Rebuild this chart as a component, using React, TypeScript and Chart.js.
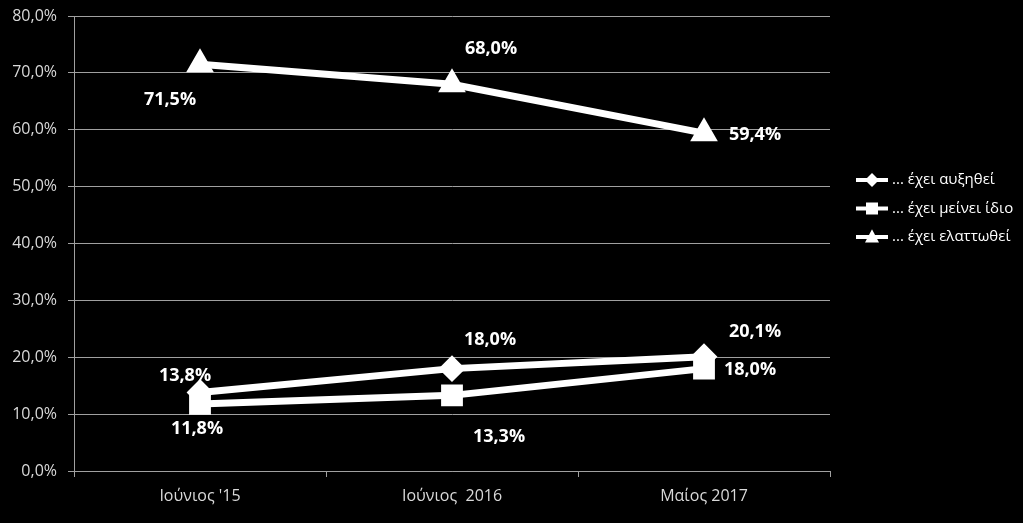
import React, { useEffect, useRef } from 'react';
import { Chart, registerables } from 'chart.js';

Chart.register(...registerables);

const categories = ["Ιούνιος '15", 'Ιούνιος  2016', 'Μαίος 2017'];
const seriesNames = ['... έχει αυξηθεί', '... έχει μείνει ίδιο', '... έχει ελαττωθεί'];
const increased = [13.8, 18.0, 20.1];
const same = [11.8, 13.3, 18.0];
const decreased = [71.5, 68.0, 59.4];
const yMin = 0;
const yMax = 80;
const yStep = 10;
// pixel offsets of each value label from its point [dx, dy]
const labelOffsets = [
  [[-15, -17], [38, -29], [51, -25]],
  [[-3, 25], [47, 42], [46, 1]],
  [[-30, 36], [39, -35], [51, 2]],
];

const FONT = "'Open Sans', 'Noto Sans', sans-serif";
const fmt = (v: number) => v.toFixed(1).replace('.', ',') + '%';

const dataLabelPlugin = {
  id: 'dataLabels',
  afterDatasetsDraw(chart: any) {
    const ctx = chart.ctx;
    ctx.save();
    ctx.font = `bold 18px ${FONT}`;
    ctx.fillStyle = '#ffffff';
    ctx.textAlign = 'center';
    ctx.textBaseline = 'middle';
    chart.data.datasets.forEach((ds: any, i: number) => {
      const meta = chart.getDatasetMeta(i);
      meta.data.forEach((pt: any, j: number) => {
        const [dx, dy] = labelOffsets[i][j];
        ctx.fillText(fmt(ds.data[j]), pt.x + dx, pt.y + dy);
      });
    });
    ctx.restore();
  },
};

function drawMarker(ctx: CanvasRenderingContext2D, style: string, x: number, y: number, r: number) {
  ctx.beginPath();
  if (style === 'rectRot') {
    ctx.moveTo(x, y - r);
    ctx.lineTo(x + r, y);
    ctx.lineTo(x, y + r);
    ctx.lineTo(x - r, y);
  } else if (style === 'rect') {
    ctx.rect(x - r, y - r, 2 * r, 2 * r);
  } else {
    ctx.moveTo(x, y - r * 1.1);
    ctx.lineTo(x + r, y + r * 0.8);
    ctx.lineTo(x - r, y + r * 0.8);
  }
  ctx.closePath();
  ctx.fill();
}

const legendPlugin = {
  id: 'customLegend',
  afterDraw(chart: any) {
    const ctx = chart.ctx;
    const x0 = chart.chartArea.right + 26;
    const y0 = 180;
    const gap = 28.5;
    ctx.save();
    chart.data.datasets.forEach((ds: any, i: number) => {
      const y = y0 + i * gap;
      ctx.strokeStyle = '#ffffff';
      ctx.fillStyle = '#ffffff';
      ctx.lineWidth = 4;
      ctx.beginPath();
      ctx.moveTo(x0, y);
      ctx.lineTo(x0 + 32, y);
      ctx.stroke();
      drawMarker(ctx, ds.pointStyle, x0 + 16, y, ds.pointStyle === 'rect' ? 6 : 7);
      ctx.font = `15px ${FONT}`;
      ctx.textAlign = 'left';
      ctx.textBaseline = 'middle';
      ctx.fillText(ds.label, x0 + 36, y);
    });
    ctx.restore();
  },
};

export default function App() {
  const ref = useRef<HTMLCanvasElement>(null);
  useEffect(() => {
    document.body.style.margin = '0';
    document.body.style.background = '#000';
    const common = {
      borderColor: '#ffffff',
      backgroundColor: '#ffffff',
      pointBackgroundColor: '#ffffff',
      pointBorderColor: '#ffffff',
      borderWidth: 7,
      pointBorderWidth: 2,
      tension: 0,
    };
    const chart = new Chart(ref.current!, {
      type: 'line',
      data: {
        labels: categories,
        datasets: [
          { ...common, label: seriesNames[0], data: increased, pointStyle: 'rectRot', pointRadius: 12 },
          { ...common, label: seriesNames[1], data: same, pointStyle: 'rect', pointRadius: 14 },
          { ...common, label: seriesNames[2], data: decreased, pointStyle: 'triangle', pointRadius: 14 },
        ],
      },
      options: {
        responsive: false,
        animation: false,
        layout: { padding: { top: 11, right: 193, left: 0, bottom: 0 } },
        plugins: { legend: { display: false }, tooltip: { enabled: false } },
        scales: {
          x: {
            offset: true,
            grid: { offset: true, drawOnChartArea: false, color: '#a0a0a0', tickLength: 6 },
            border: { display: true, color: '#a0a0a0', width: 1 },
            ticks: { color: '#d9d9d9', font: { family: FONT, size: 16 }, padding: 10, maxRotation: 0 },
            afterFit: (s: any) => { s.height = 52; },
          },
          y: {
            min: yMin,
            max: yMax,
            ticks: {
              stepSize: yStep,
              color: '#d9d9d9',
              font: { family: FONT, size: 16 },
              padding: 11,
              callback: (v: any) => fmt(Number(v)),
            },
            grid: { color: '#a0a0a0', tickLength: 6, lineWidth: 1 },
            border: { display: true, color: '#a0a0a0', width: 1 },
            afterFit: (s: any) => { s.width = 74; s.paddingTop = 0; s.paddingBottom = 0; },
          },
        },
      },
      plugins: [dataLabelPlugin, legendPlugin],
    } as any);
    return () => chart.destroy();
  }, []);
  return (
    <div style={{ width: 1023, height: 523, background: '#000' }}>
      <canvas ref={ref} width={1023} height={523} />
    </div>
  );
}
